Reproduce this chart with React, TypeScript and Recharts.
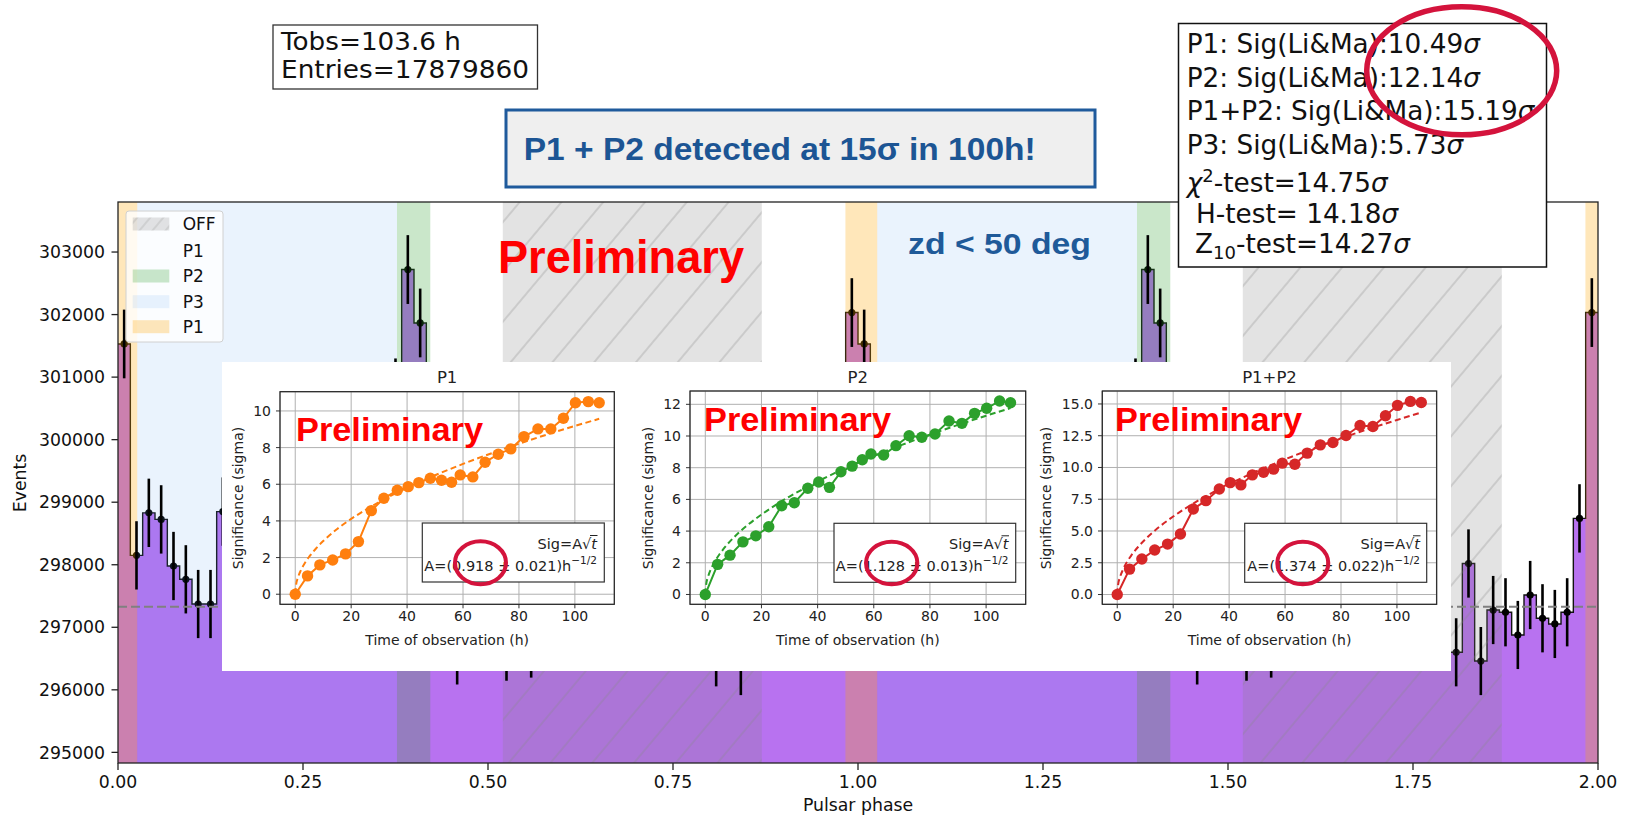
import React from 'react';
import {
  ComposedChart, Area, Scatter, ErrorBar, XAxis, YAxis, ReferenceArea, ReferenceLine,
  LineChart, Line, CartesianGrid,
} from 'recharts';

// ---------------- DATA ----------------
// Events per phase bin (60 bins per rotation), drawn over two rotations
const phaseBinCounts = [
  301530, 298150, 298830, 298725, 297980, 297767, 297372, 297372, 298850,
  298500, 298200, 298400, 297900, 298100, 297800, 298000, 297700, 298100, 297900, 298300, 298600, 299100,
  300750, 302720, 301866,
  297800, 297200, 296630, 297100, 297400, 297000, 296690, 297300, 296740, 297500, 297200, 297600,
  297100, 297400, 297700, 297300, 297000, 297500, 297200, 297600, 297400, 297100, 297300,
  296600, 298020, 296460, 297276, 297240, 296877, 297516, 297144, 297053, 297240, 298741, 302032,
];
const rotations = 2;
const offLevel = 297330;
const phaseTicks = [0, 0.25, 0.5, 0.75, 1.0, 1.25, 1.5, 1.75, 2.0];
const countTicks = [295000, 296000, 297000, 298000, 299000, 300000, 301000, 302000, 303000];

// Phase regions (one rotation)
const regionNames = ['P1', 'P3', 'P2', 'OFF'];
const regionStart = [-0.017, 0.026, 0.377, 0.52];
const regionEnd = [0.026, 0.377, 0.422, 0.87];

// Significance vs observation time
const obsHours = [0, 4.4, 8.8, 13.4, 18.0, 22.6, 27.2, 31.7, 36.5, 40.4, 44.2, 48.3, 52.3, 55.9, 59.0, 63.5, 67.9, 72.6, 77.1, 81.8, 86.8, 91.4, 95.9, 100.2, 104.8, 108.7];
const sigP1 = [0, 1.0, 1.6, 1.87, 2.2, 2.87, 4.56, 5.24, 5.67, 5.87, 6.09, 6.33, 6.22, 6.11, 6.51, 6.4, 7.2, 7.64, 7.93, 8.6, 9.02, 9.02, 9.6, 10.45, 10.51, 10.45];
const sigP2 = [0, 1.9, 2.48, 3.32, 3.7, 4.27, 5.6, 5.79, 6.7, 7.1, 6.76, 7.74, 8.1, 8.5, 8.86, 8.8, 9.39, 10.02, 9.92, 10.13, 10.95, 10.8, 11.43, 11.75, 12.21, 12.1];
const sigP1P2 = [0, 2.0, 2.79, 3.5, 3.97, 4.76, 6.73, 7.39, 8.31, 8.81, 8.63, 9.42, 9.63, 9.87, 10.34, 10.26, 11.13, 11.78, 11.97, 12.52, 13.31, 13.23, 14.07, 14.89, 15.2, 15.12];
// Fitted curves Sig = A*sqrt(t)
const fitHours = [0, 0.3, 1, 2, 3.5, 5, 7.5, 10, 15, 20, 25, 30, 40, 50, 60, 70, 80, 90, 100, 108.7];
const fitP1 = [0, 0.5, 0.92, 1.3, 1.72, 2.05, 2.51, 2.9, 3.56, 4.11, 4.59, 5.03, 5.81, 6.49, 7.11, 7.68, 8.21, 8.71, 9.18, 9.57];
const fitP2 = [0, 0.62, 1.13, 1.6, 2.11, 2.52, 3.09, 3.57, 4.37, 5.04, 5.64, 6.18, 7.13, 7.98, 8.74, 9.44, 10.09, 10.7, 11.28, 11.76];
const fitP1P2 = [0, 0.75, 1.37, 1.94, 2.57, 3.07, 3.76, 4.34, 5.32, 6.14, 6.87, 7.53, 8.69, 9.72, 10.64, 11.5, 12.29, 13.04, 13.74, 14.33];

// ---------------- BUILD ----------------
const nBins = phaseBinCounts.length;
const allCounts: number[] = [];
for (let r = 0; r < rotations; r++) allCounts.push(...phaseBinCounts);
const stepData = allCounts.map((c, i) => ({ x: i / nBins, y: c }));
stepData.push({ x: rotations, y: allCounts[allCounts.length - 1] });
const pointData = allCounts.map((c, i) => ({ x: (i + 0.5) / nBins, y: c, err: Math.sqrt(c) }));

const regionFill: Record<string, string> = { P1: '#ffa500', P3: '#5da5f0', P2: '#2ca02c', OFF: 'url(#offHatch)' };
const regionOpacity: Record<string, number> = { P1: 0.27, P3: 0.13, P2: 0.25, OFF: 1 };
const bands: { name: string; x1: number; x2: number }[] = [];
for (let r = 0; r <= rotations; r++) {
  regionNames.forEach((n, k) => {
    const a = Math.max(0, regionStart[k] + r);
    const b = Math.min(rotations, regionEnd[k] + r);
    if (b > a) bands.push({ name: n, x1: a, x2: b });
  });
}

const FONT = '"DejaVu Sans", sans-serif';
const BOLD = '"Liberation Sans", Arial, sans-serif';
const YMIN = 294830;
const YMAX = 303800;

// ---------------- INSET ----------------
function Inset(props: {
  left: number; width: number; marginTop: number; plotH: number;
  yDomain: [number, number]; yTicks: number[]; yFmt?: (v: number) => string;
  color: string; values: number[]; fit: number[];
}) {
  const { left, width, marginTop, plotH, yDomain, yTicks, yFmt, color, values, fit } = props;
  const pts = obsHours.map((t, i) => ({ t, s: values[i] }));
  const fitPts = fitHours.map((t, i) => ({ t, s: fit[i] }));
  const H = 309;
  return (
    <div style={{ position: 'absolute', left, top: 362 }}>
      <LineChart width={width} height={H} margin={{ top: marginTop, right: 8, bottom: H - marginTop - plotH - 30, left: 10 }}>
        <CartesianGrid stroke="#b0b0b0" strokeWidth={1} />
        <XAxis type="number" dataKey="t" domain={[-5.45, 114.1]} ticks={[0, 20, 40, 60, 80, 100]} interval={0}
          allowDataOverflow axisLine={false} tickSize={4} tickMargin={3} height={30}
          tickLine={{ stroke: '#333' }} tick={{ fill: '#222', fontSize: 14, fontFamily: FONT }} />
        <YAxis type="number" domain={yDomain} ticks={yTicks} interval={0} allowDataOverflow width={50}
          axisLine={false} tickSize={4} tickMargin={5} tickFormatter={yFmt}
          tickLine={{ stroke: '#333' }} tick={{ fill: '#222', fontSize: 14, fontFamily: FONT }} />
        <Line data={fitPts} dataKey="s" type="monotone" stroke={color} strokeWidth={2} strokeDasharray="6 3.5"
          dot={false} activeDot={false} isAnimationActive={false} />
        <Line data={pts} dataKey="s" type="linear" stroke={color} strokeWidth={2}
          dot={{ r: 5.7, fill: color, stroke: color, strokeWidth: 0 }} activeDot={false} isAnimationActive={false} />
      </LineChart>
    </div>
  );
}

function SigLegend({ x, right, y, w, a }: { x: number; right: number; y: number; w: number; a: string }) {
  return (
    <g>
      <rect x={x} y={y} width={w} height={59} fill="#fff" stroke="#333" strokeWidth={1.2} />
      <text x={right} y={y + 25.5} textAnchor="end" fontFamily={FONT} fontSize={14.5} fill="#222">
        Sig=A√<tspan fontStyle="italic">t</tspan>
      </text>
      <line x1={right - 7} x2={right + 0.5} y1={y + 12.5} y2={y + 12.5} stroke="#222" strokeWidth={1} />
      <text x={right} y={y + 47.5} textAnchor="end" fontFamily={FONT} fontSize={14.5} fill="#222">
        {`A=(${a})h`}<tspan fontSize={10.5} dy={-7}>−1/2</tspan>
      </text>
    </g>
  );
}

export default function App() {
  const insetPlots = [
    { x: 280, y: 391.7, w: 334.3, h: 212.6, title: 'P1' },
    { x: 690, y: 391, w: 335.7, h: 213.3, title: 'P2' },
    { x: 1102.3, y: 391, w: 334.4, h: 213.3, title: 'P1+P2' },
  ];
  const sigLabelX = [238, 648, 1046];
  return (
    <div style={{ position: 'absolute', left: 0, top: 0, width: 1627, height: 815, background: '#fff', overflow: 'hidden' }}>
      {/* Main phaseogram */}
      <div style={{ position: 'absolute', left: 0, top: 0 }}>
        <ComposedChart width={1627} height={815} margin={{ top: 202, right: 29, bottom: 12, left: 18 }}>
          <defs>
            <pattern id="offHatch" width="32" height="32" patternUnits="userSpaceOnUse" patternTransform="rotate(40)">
              <rect width="32" height="32" fill="#808080" fillOpacity={0.22} />
              <line x1="16" y1="0" x2="16" y2="32" stroke="#8a8a8a" strokeOpacity={0.45} strokeWidth={1.2} />
            </pattern>
          </defs>
          <XAxis type="number" dataKey="x" domain={[0, 2]} ticks={phaseTicks} interval={0} allowDataOverflow
            axisLine={false} tickSize={7} tickMargin={6} height={40}
            tickFormatter={(v: number) => Number(v).toFixed(2)}
            tickLine={{ stroke: '#222', strokeWidth: 1.3 }} tick={{ fill: '#111', fontSize: 17.3, fontFamily: FONT }} />
          <YAxis type="number" domain={[YMIN, YMAX]} ticks={countTicks} interval={0} allowDataOverflow width={100}
            axisLine={false} tickSize={6.5} tickMargin={6.5}
            tickLine={{ stroke: '#222', strokeWidth: 1.3 }} tick={{ fill: '#111', fontSize: 17.3, fontFamily: FONT }} />
          <Area data={stepData} dataKey="y" type="stepAfter" baseValue={YMIN} fill="#b872f0" fillOpacity={1}
            stroke="#111" strokeWidth={1.4} dot={false} activeDot={false} isAnimationActive={false} zIndex={100} />
          <Scatter data={pointData} dataKey="y" isAnimationActive={false} zIndex={200}
            shape={(p: any) => <circle cx={p.cx} cy={p.cy} r={3.6} fill="#000" />}>
            <ErrorBar dataKey="err" direction="y" width={0} stroke="#000" strokeWidth={2.6} />
          </Scatter>
          {bands.map((b, i) => (
            <ReferenceArea key={i} x1={b.x1} x2={b.x2} y1={YMIN} y2={YMAX} fill={regionFill[b.name]}
              fillOpacity={regionOpacity[b.name]} stroke="none" ifOverflow="hidden" zIndex={300} />
          ))}
          <ReferenceLine y={offLevel} stroke="#808080" strokeWidth={2} strokeDasharray="9 4" zIndex={400} />
        </ComposedChart>
      </div>

      {/* Frame, legend, labels */}
      <svg width={1627} height={815} style={{ position: 'absolute', left: 0, top: 0 }}>
        <defs>
          <pattern id="legHatch" width="10" height="10" patternUnits="userSpaceOnUse" patternTransform="rotate(40)">
            <rect width="10" height="10" fill="#808080" fillOpacity={0.22} />
            <line x1="5" y1="0" x2="5" y2="10" stroke="#8a8a8a" strokeOpacity={0.4} strokeWidth={1} />
          </pattern>
        </defs>
        <rect x={118} y={202} width={1480} height={561} fill="none" stroke="#222" strokeWidth={1.3} />
        <text transform="translate(20,483) rotate(-90)" textAnchor="middle" dominantBaseline="central"
          fontFamily={FONT} fontSize={17.3} fill="#111">Events</text>
        <text x={858} y={805} textAnchor="middle" dominantBaseline="central" fontFamily={FONT} fontSize={17.3} fill="#111">Pulsar phase</text>
        {/* legend */}
        <rect x={126} y={211} width={97} height={131} rx={3} fill="#fff" fillOpacity={0.8} stroke="#d0d0d0" />
        <rect x={132.7} y={217.5} width={36.6} height={13} fill="url(#legHatch)" />
        <rect x={132.7} y={269.5} width={36.6} height={13} fill="#2ca02c" fillOpacity={0.25} />
        <rect x={132.7} y={295.2} width={36.6} height={13} fill="#5da5f0" fillOpacity={0.13} />
        <rect x={132.7} y={320.2} width={36.6} height={13} fill="#ffa500" fillOpacity={0.27} />
        {['OFF', 'P1', 'P2', 'P3', 'P1'].map((s, i) => (
          <text key={i} x={182.7} y={[224, 251, 276, 301.7, 326.7][i]} dominantBaseline="central"
            fontFamily={FONT} fontSize={17} fill="#111">{s}</text>
        ))}
        <text x={498} y={273.3} fontFamily={BOLD} fontWeight="bold" fontSize={46} fill="#ff0000"
          textLength={246} lengthAdjust="spacingAndGlyphs">Preliminary</text>
        <text x={908} y={254} fontFamily={BOLD} fontWeight="bold" fontSize={29.5} fill="#1f5a99"
          textLength={183} lengthAdjust="spacingAndGlyphs">zd &lt; 50 deg</text>
      </svg>

      {/* Insets */}
      <div style={{ position: 'absolute', left: 222, top: 362, width: 1229, height: 309, background: '#fff' }} />
      <Inset left={220} width={402.3} marginTop={29.7} plotH={212.6} yDomain={[-0.55, 11.05]} yTicks={[0, 2, 4, 6, 8, 10]}
        color="#ff7f0e" values={sigP1} fit={fitP1} />
      <Inset left={630} width={403.7} marginTop={29} plotH={213.3} yDomain={[-0.62, 12.84]} yTicks={[0, 2, 4, 6, 8, 10, 12]}
        color="#2ca02c" values={sigP2} fit={fitP2} />
      <Inset left={1042.3} width={402.4} marginTop={29} plotH={213.3} yDomain={[-0.77, 16.02]} yTicks={[0, 2.5, 5, 7.5, 10, 12.5, 15]}
        yFmt={(v: number) => Number(v).toFixed(1)} color="#d62728" values={sigP1P2} fit={fitP1P2} />

      {/* Annotations on top */}
      <svg width={1627} height={815} style={{ position: 'absolute', left: 0, top: 0 }}>
        {insetPlots.map((p, i) => (
          <g key={i}>
            <rect x={p.x} y={p.y} width={p.w} height={p.h} fill="none" stroke="#222" strokeWidth={1.2} />
            <text x={p.x + p.w / 2} y={383.3} textAnchor="middle" fontFamily={FONT} fontSize={16.5} fill="#222">{p.title}</text>
            <text x={p.x + p.w / 2} y={645} textAnchor="middle" fontFamily={FONT} fontSize={14} fill="#222">Time of observation (h)</text>
            <text transform={`translate(${sigLabelX[i]},498) rotate(-90)`} textAnchor="middle" dominantBaseline="central"
              fontFamily={FONT} fontSize={14} fill="#222">Significance (sigma)</text>
          </g>
        ))}
        <text x={296} y={441} fontFamily={BOLD} fontWeight="bold" fontSize={32.5} fill="#ff0000" textLength={187} lengthAdjust="spacingAndGlyphs">Preliminary</text>
        <text x={704} y={431} fontFamily={BOLD} fontWeight="bold" fontSize={32.5} fill="#ff0000" textLength={187} lengthAdjust="spacingAndGlyphs">Preliminary</text>
        <text x={1115} y={431} fontFamily={BOLD} fontWeight="bold" fontSize={32.5} fill="#ff0000" textLength={187} lengthAdjust="spacingAndGlyphs">Preliminary</text>

        <SigLegend x={422.3} right={597} y={523} w={182} a="0.918 ± 0.021" />
        <SigLegend x={834} right={1008.5} y={523.3} w={181.7} a="1.128 ± 0.013" />
        <SigLegend x={1244.7} right={1420} y={523.3} w={182} a="1.374 ± 0.022" />

        {/* Tobs box */}
        <rect x={273} y={25} width={264.5} height={64} fill="#fff" stroke="#333" strokeWidth={1.3} />
        <text x={281} y={50} fontFamily={FONT} fontSize={24} fill="#111" textLength={180} lengthAdjust="spacingAndGlyphs">Tobs=103.6 h</text>
        <text x={281} y={77.5} fontFamily={FONT} fontSize={24} fill="#111" textLength={248} lengthAdjust="spacingAndGlyphs">Entries=17879860</text>

        {/* Blue box */}
        <rect x={506} y={110} width={589} height={77} fill="#efefef" stroke="#1f5a9c" strokeWidth={3} />
        <text x={523.7} y={160} fontFamily={BOLD} fontWeight="bold" fontSize={31} fill="#1c5594"
          textLength={512} lengthAdjust="spacingAndGlyphs">P1 + P2 detected at 15σ in 100h!</text>

        {/* Stats box */}
        <rect x={1178.5} y={23.5} width={368} height={243.5} fill="#fff" stroke="#111" strokeWidth={1.5} />
        <g fontFamily={FONT} fontSize={26.3} fill="#111">
          <text x={1186.7} y={53.3}>P1: Sig(Li&amp;Ma):10.49<tspan fontStyle="italic">σ</tspan></text>
          <text x={1186.7} y={86.7}>P2: Sig(Li&amp;Ma):12.14<tspan fontStyle="italic">σ</tspan></text>
          <text x={1186.7} y={120}>P1+P2: Sig(Li&amp;Ma):15.19<tspan fontStyle="italic">σ</tspan></text>
          <text x={1186.7} y={154}>P3: Sig(Li&amp;Ma):5.73<tspan fontStyle="italic">σ</tspan></text>
          <text x={1186.7} y={191.7}><tspan fontStyle="italic">χ</tspan><tspan fontSize={18} dy={-10}>2</tspan><tspan dy={10}>-test=14.75</tspan><tspan fontStyle="italic">σ</tspan></text>
          <text x={1196} y={222.7}>H-test= 14.18<tspan fontStyle="italic">σ</tspan></text>
          <text x={1195} y={253}>Z<tspan fontSize={18} dy={6}>10</tspan><tspan dy={-6}>-test=14.27</tspan><tspan fontStyle="italic">σ</tspan></text>
        </g>

        {/* Red highlight ellipses */}
        <ellipse cx={1461.7} cy={70.8} rx={95} ry={64} fill="none" stroke="#d4133c" strokeWidth={5.5} />
        <ellipse cx={480.5} cy={562.8} rx={25.5} ry={21.5} fill="none" stroke="#d4133c" strokeWidth={4} />
        <ellipse cx={891.7} cy={563} rx={25.7} ry={21.3} fill="none" stroke="#d4133c" strokeWidth={4} />
        <ellipse cx={1302.8} cy={563} rx={25.5} ry={21.3} fill="none" stroke="#d4133c" strokeWidth={4} />
      </svg>
    </div>
  );
}
